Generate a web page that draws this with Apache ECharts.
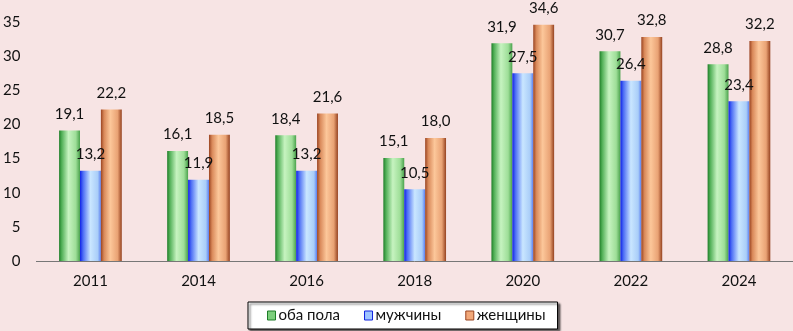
<!DOCTYPE html>
<html><head><meta charset="utf-8">
<script src="https://cdn.jsdelivr.net/npm/echarts@6/dist/echarts.min.js"></script>
<style>html,body{margin:0;padding:0;background:#f7e4e4;}#c{width:793px;height:331px;}</style>
</head><body><div id="c"></div>
<script>
var categories = ['2011','2014','2016','2018','2020','2022','2024'];
var both = [19.1,16.1,18.4,15.1,31.9,30.7,28.8];
var men = [13.2,11.9,13.2,10.5,27.5,26.4,23.4];
var women = [22.2,18.5,21.6,18.0,34.6,32.8,32.2];
var names = ['оба пола','мужчины','женщины'];

var G = echarts.graphic.LinearGradient;
function grad(stops){ return new G(0,0,1,0, stops.map(function(s){return {offset:s[0],color:s[1]};})); }
var cGreen = grad([[0,'#1e7d28'],[0.12,'#4fae55'],[0.45,'#c6f3c0'],[0.8,'#9ede98'],[1,'#4aa24c']]);
var cBlue = grad([[0,'#0f22e8'],[0.15,'#4e6ff5'],[0.5,'#c9e6ff'],[0.85,'#a9cdf8'],[1,'#5a7ef0']]);
var cOrange = grad([[0,'#9a4421'],[0.15,'#d9895a'],[0.45,'#fcc79a'],[0.8,'#e9a274'],[1,'#954220']]);
var font = 'Lato, "Open Sans", sans-serif';
function fmt(p){ return String(p.value.toFixed(1)).replace('.',','); }
function ser(name, data, color){
  return {name:name, type:'bar', data:data, barGap:'0%', barCategoryGap:'42%',
    itemStyle:{color:color},
    label:{show:true, position:'top', distance:9, formatter:fmt, color:'#111', fontSize:15, fontFamily:font}};
}
var chart = echarts.init(document.getElementById('c'));
chart.setOption({
  animation:false,
  backgroundColor:'#f7e4e4',
  grid:{left:32, right:0, top:22, bottom:70},
  xAxis:{type:'category', data:categories,
    axisLine:{lineStyle:{color:'#777', width:1}}, axisTick:{show:false},
    axisLabel:{color:'#111', fontSize:15, fontFamily:font, margin:13}},
  yAxis:{type:'value', min:0, max:35, interval:5,
    axisLine:{show:false}, axisTick:{show:false}, splitLine:{show:false},
    axisLabel:{color:'#111', fontSize:15, fontFamily:font, margin:16}},
  legend:{left:248, top:302, orient:'horizontal', itemWidth:8, itemHeight:9, itemGap:24,
    padding:[6,12,6,19], backgroundColor:'#ffffff', borderColor:'#000', borderWidth:1,
    shadowColor:'rgba(0,0,0,0.6)', shadowOffsetX:2, shadowOffsetY:2, shadowBlur:2,
    textStyle:{color:'#111', fontSize:15, fontFamily:font, padding:[0,0,0,-2]},
    data:[{name:names[0], icon:'rect', itemStyle:{color:'#7ccf7c', borderColor:'#1e7d28', borderWidth:1}},
          {name:names[1], icon:'rect', itemStyle:{color:'#9fc4ff', borderColor:'#1022e0', borderWidth:1}},
          {name:names[2], icon:'rect', itemStyle:{color:'#f2a879', borderColor:'#9a4421', borderWidth:1}}]},
  series:[ser(names[0], both, cGreen), ser(names[1], men, cBlue), ser(names[2], women, cOrange)]
});
</script></body></html>
